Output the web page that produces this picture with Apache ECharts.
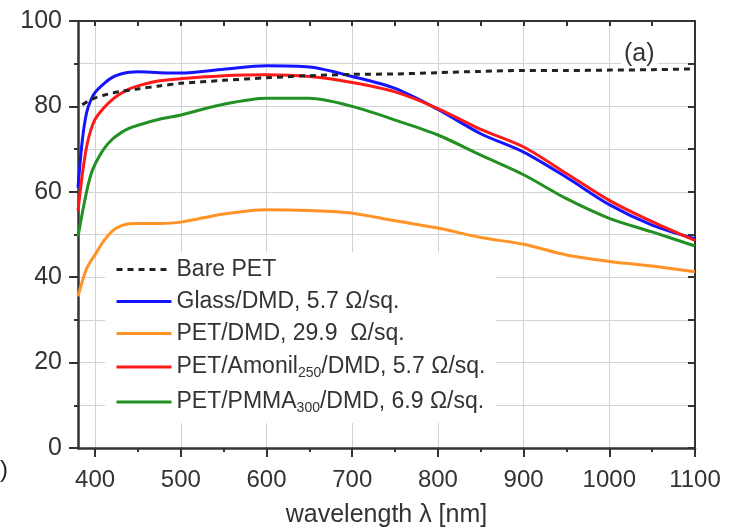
<!DOCTYPE html>
<html>
<head>
<meta charset="utf-8">
<script src="https://cdn.jsdelivr.net/npm/echarts@6/dist/echarts.min.js"></script>
<style>
  html, body { margin: 0; padding: 0; background: #fff; }
  #chart { width: 729px; height: 527px; }
</style>
</head>
<body>
<div id="chart"></div>
<script>
// wavelength samples (nm)
const wl = [380, 385, 390, 395, 400, 410, 420, 430, 440, 450, 475, 500, 550, 600, 650, 700, 750, 800, 850, 900, 950, 1000, 1050, 1100];

// transmittance (%)
const barePet = [null, 80.4, 81, 81.5, 82, 82.6, 83.1, 83.5, 83.8, 84.1, 84.8, 85.4, 86.1, 86.7, 87.2, 87.5, 87.6, 87.9, 88.2, 88.4, 88.4, 88.5, 88.6, 88.8];
const glassDmd = [61, 72, 78.5, 81.5, 83.3, 85.3, 86.8, 87.6, 88, 88.1, 87.9, 87.8, 88.7, 89.5, 89.2, 87, 84.2, 79.3, 73.6, 69.3, 63.4, 57, 52.2, 49];
const petDmd = [35.5, 39, 42, 43.8, 45.3, 48.5, 50.8, 52, 52.5, 52.6, 52.6, 52.9, 54.8, 55.8, 55.6, 55, 53.2, 51.5, 49.3, 47.7, 45.2, 43.7, 42.6, 41.3];
const petAmonil = [55.5, 64, 70.5, 74.5, 77, 79.6, 81.6, 83, 84.1, 84.8, 86, 86.5, 87.2, 87.4, 87, 85.6, 83.4, 79.5, 74.6, 70.5, 64.3, 58, 53, 48.6];
const petPmma = [49.5, 55, 60, 64, 66.5, 70, 72.3, 73.8, 74.9, 75.6, 77, 78, 80.5, 81.9, 81.9, 80, 76.8, 73.3, 68.6, 64, 58.4, 53.8, 50.6, 47.3];

const seriesNames = ['Bare PET', 'Glass/DMD, 5.7 Ω/sq.', 'PET/DMD, 29.9  Ω/sq.', 'PET/Amonil250/DMD, 5.7 Ω/sq.', 'PET/PMMA300/DMD, 6.9 Ω/sq.'];
const legendLabels = [
  '{a|Bare PET}',
  '{a|Glass/DMD, 5.7 Ω/sq.}',
  '{a|PET/DMD, 29.9  Ω/sq.}',
  '{a|PET/Amonil}{s|250}{a|/DMD, 5.7 Ω/sq.}',
  '{a|PET/PMMA}{s|300}{a|/DMD, 6.9 Ω/sq.}'
];

const majorX = [400, 500, 600, 700, 800, 900, 1000, 1100];
const minorX = [450, 550, 650, 750, 850, 950, 1050];
const topX = [400, 450, 500, 550, 600, 650, 700, 750, 800, 850, 900, 950, 1000, 1050];

const font = 'Liberation Sans, Arial, sans-serif';
const gridColor = '#d3d3d3';
const axisColor = '#333';

function pairs(ys) {
  return wl.map((x, i) => [x, ys[i]]);
}

function lineSeries(name, ys, color, dashed) {
  return {
    name: name,
    type: 'line',
    data: pairs(ys),
    showSymbol: false,
    symbol: 'none',
    smooth: 0.3,
    connectNulls: false,
    lineStyle: { color: color, width: 3, type: dashed ? [6, 5] : 'solid' },
    itemStyle: { color: color },
    z: 3
  };
}

const chart = echarts.init(document.getElementById('chart'), null, { renderer: 'canvas' });

chart.setOption({
  animation: false,
  backgroundColor: '#fff',
  textStyle: { fontFamily: font },
  grid: { left: 78, right: 34, top: 21, bottom: 79, containLabel: false, outerBoundsMode: 'none' },
  xAxis: [
    {
      type: 'value', position: 'bottom', min: 380, max: 1100, interval: 50,
      name: 'wavelength λ [nm]', nameLocation: 'middle', nameGap: 55,
      nameTextStyle: { fontSize: 25, color: '#333', fontFamily: font },
      axisLine: { show: true, onZero: false, lineStyle: { color: axisColor, width: 2.5 } },
      axisTick: { show: true, customValues: majorX, length: 9, lineStyle: { color: axisColor, width: 2 } },
      axisLabel: {
        customValues: majorX, fontSize: 24, color: '#333', margin: 20, fontFamily: font,
        formatter: function (v) { return String(v); }
      },
      splitLine: { show: true, lineStyle: { color: gridColor, width: 1 } }
    },
    {
      type: 'value', position: 'bottom', min: 380, max: 1100,
      axisLine: { show: false, onZero: false },
      axisTick: { show: true, customValues: minorX, length: 4, lineStyle: { color: axisColor, width: 2 } },
      axisLabel: { show: false },
      splitLine: { show: false }
    },
    {
      type: 'value', position: 'top', min: 380, max: 1100,
      axisLine: { show: true, onZero: false, lineStyle: { color: axisColor, width: 2 } },
      axisTick: { show: true, inside: true, customValues: topX, length: 5, lineStyle: { color: axisColor, width: 2 } },
      axisLabel: { show: false },
      splitLine: { show: false }
    }
  ],
  yAxis: [
    {
      type: 'value', position: 'left', min: 0, max: 100, interval: 20,
      axisLine: { show: true, onZero: false, lineStyle: { color: axisColor, width: 2.5 } },
      axisTick: { show: true, length: 9, lineStyle: { color: axisColor, width: 2 } },
      minorTick: { show: true, splitNumber: 2, length: 4, lineStyle: { color: axisColor, width: 2 } },
      axisLabel: { fontSize: 25, color: '#333', margin: 16, fontFamily: font },
      splitLine: { show: true, lineStyle: { color: gridColor, width: 1 } },
      minorSplitLine: { show: true, lineStyle: { color: gridColor, width: 1 } }
    },
    {
      type: 'value', position: 'right', min: 0, max: 100, interval: 10,
      axisLine: { show: true, onZero: false, lineStyle: { color: axisColor, width: 2 } },
      axisTick: { show: true, inside: true, length: 7, lineStyle: { color: axisColor, width: 2 } },
      axisLabel: { show: false },
      splitLine: { show: false }
    }
  ],
  legend: {
    data: seriesNames,
    orient: 'vertical',
    left: 105, top: 252,
    backgroundColor: '#fff',
    padding: [6, 10, 8, 10],
    itemWidth: 55, itemHeight: 14, itemGap: 9,
    itemStyle: { opacity: 0, borderWidth: 0 },
    lineStyle: { width: 3 },
    formatter: function (name) {
      return legendLabels[seriesNames.indexOf(name)];
    },
    textStyle: {
      fontFamily: font, fontSize: 23, color: '#333',
      rich: {
        a: { fontSize: 23, color: '#333', fontFamily: font, lineHeight: 25 },
        s: { fontSize: 14, color: '#333', fontFamily: font, lineHeight: 25, padding: [12, 0, 0, 0] }
      }
    }
  },
  graphic: [
    {
      type: 'text', left: 621, top: 42, z: 100,
      style: { text: '(a)', fontSize: 25, fill: '#333', fontFamily: font, backgroundColor: '#fff', padding: [0, 3] }
    },
    {
      type: 'text', left: 0, top: 458, z: 100,
      style: { text: ')', fontSize: 24, fill: '#222', fontFamily: font }
    }
  ],
  series: [
    lineSeries(seriesNames[2], petDmd, '#ff9326', false),
    lineSeries(seriesNames[4], petPmma, '#229022', false),
    lineSeries(seriesNames[1], glassDmd, '#1414ff', false),
    lineSeries(seriesNames[3], petAmonil, '#ff1a1a', false),
    lineSeries(seriesNames[0], barePet, '#222', true)
  ]
});
</script>
</body>
</html>
